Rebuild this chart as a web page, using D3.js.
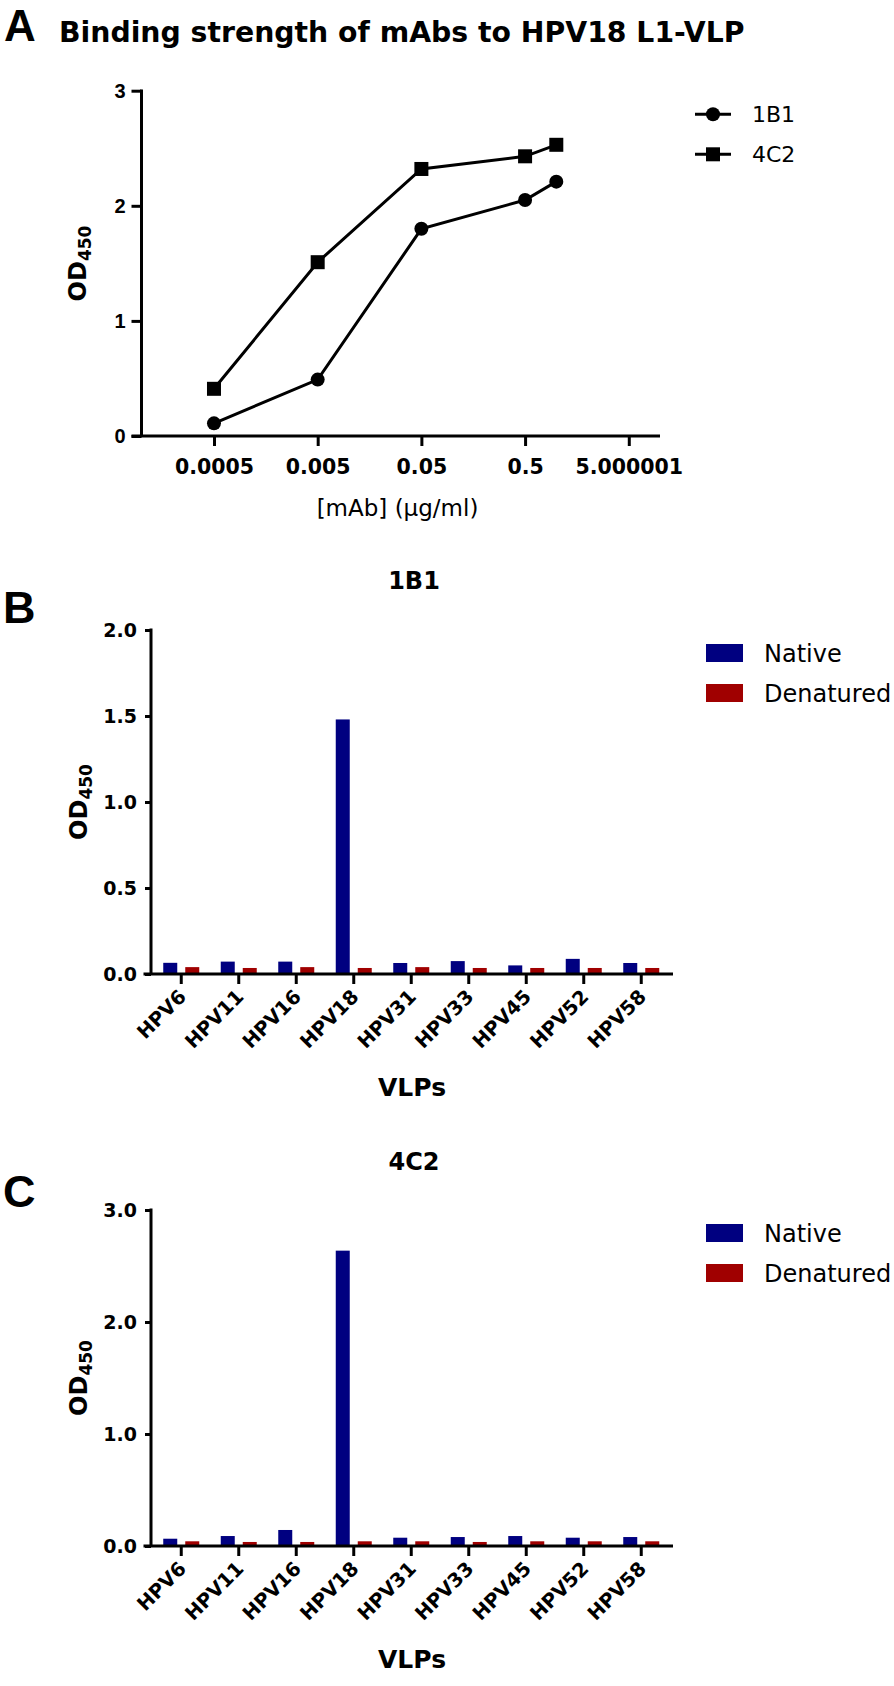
<!DOCTYPE html>
<html><head><meta charset="utf-8">
<script src="https://cdn.jsdelivr.net/npm/d3@7"></script>
<style>body{margin:0;background:#fff}svg{display:block}</style>
</head><body>
<script>
// ---------- DATA ----------
const concA = [0.0005, 0.005, 0.05, 0.5, 1];
const od1B1 = [0.11, 0.49, 1.80, 2.05, 2.21];
const od4C2 = [0.41, 1.51, 2.32, 2.43, 2.53];
const xTicksA = [0.0005, 0.005, 0.05, 0.5, 5.000001];
const xTickLabelsA = ["0.0005", "0.005", "0.05", "0.5", "5.000001"];
const yTicksA = [0, 1, 2, 3];

const vlps = ["HPV6", "HPV11", "HPV16", "HPV18", "HPV31", "HPV33", "HPV45", "HPV52", "HPV58"];
const groups = ["Native", "Denatured"];
const native1B1 = [0.065, 0.072, 0.072, 1.48, 0.064, 0.075, 0.050, 0.088, 0.064];
const denat1B1  = [0.040, 0.035, 0.040, 0.035, 0.040, 0.035, 0.035, 0.035, 0.035];
const native4C2 = [0.065, 0.089, 0.143, 2.637, 0.074, 0.080, 0.089, 0.074, 0.080];
const denat4C2  = [0.042, 0.036, 0.036, 0.042, 0.042, 0.036, 0.042, 0.042, 0.042];
const yTicksB = [0, 0.5, 1.0, 1.5, 2.0];
const yTicksC = [0, 1.0, 2.0, 3.0];

const colors = {Native: "#000080", Denatured: "#A00000"};
const BOLD = "'DejaVu Sans', Verdana, sans-serif";
const ARIAL = "'Liberation Sans', Arial, sans-serif";

const svg = d3.select("body").append("svg").attr("width", 894).attr("height", 1686);
svg.append("rect").attr("width", 894).attr("height", 1686).attr("fill", "#fff");

function txt(x, y, s, size, weight, anchor, family) {
  return svg.append("text").attr("x", x).attr("y", y).text(s)
    .attr("font-size", size).attr("font-weight", weight || "normal")
    .attr("text-anchor", anchor || "start").attr("font-family", family || BOLD).attr("fill", "#000");
}
function odLabel(x, yc) {
  const t = svg.append("text").attr("transform", `translate(${x},${yc}) rotate(-90)`)
    .attr("text-anchor", "middle").attr("font-family", BOLD).attr("font-weight", "bold").attr("fill", "#000");
  t.append("tspan").attr("font-size", 24).text("OD");
  t.append("tspan").attr("font-size", 17).attr("dy", 5).text("450");
}
function styleAxis(g) {
  g.select(".domain").remove();
  g.selectAll(".tick line").attr("stroke", "#000").attr("stroke-width", 3);
  g.selectAll(".tick text").attr("fill", "#000").attr("font-family", BOLD).attr("font-weight", "bold");
}

// ---------- PANEL A ----------
const xA = d3.scaleLog().domain([1e-4, 10]).range([141.5, 660]);
const yA = d3.scaleLinear().domain([0, 3]).range([436, 90.7]);

txt(4, 41, "A", 44, "bold", "start", ARIAL);
txt(59, 42, "Binding strength of mAbs to HPV18 L1-VLP", 28.3, "bold");

const gxA = svg.append("g").attr("transform", "translate(0,436)")
  .call(d3.axisBottom(xA).tickValues(xTicksA).tickSize(10).tickPadding(13)
    .tickFormat((d, i) => xTickLabelsA[i]));
styleAxis(gxA);
gxA.selectAll(".tick text").attr("font-size", 20.5);

const gyA = svg.append("g").attr("transform", "translate(141.5,0)")
  .call(d3.axisLeft(yA).tickValues(yTicksA).tickSize(10).tickPadding(6).tickFormat(d3.format("d")));
styleAxis(gyA);
gyA.selectAll(".tick text").attr("font-size", 20).attr("font-family", ARIAL);

svg.append("line").attr("x1", 131.5).attr("x2", 660).attr("y1", 436).attr("y2", 436).attr("stroke", "#000").attr("stroke-width", 3);
svg.append("line").attr("x1", 141.5).attr("x2", 141.5).attr("y1", 89.5).attr("y2", 436).attr("stroke", "#000").attr("stroke-width", 3);

txt(397.5, 516, "[mAb] (μg/ml)", 23, "normal", "middle");
odLabel(86, 263.5);

const lineA = d3.line().x(d => xA(d[0])).y(d => yA(d[1]));
const series = [
  {name: "1B1", vals: od1B1, shape: "circle"},
  {name: "4C2", vals: od4C2, shape: "square"}
];
series.forEach(s => {
  const pts = concA.map((c, i) => [c, s.vals[i]]);
  svg.append("path").attr("d", lineA(pts)).attr("fill", "none").attr("stroke", "#000").attr("stroke-width", 3);
  pts.forEach(p => {
    if (s.shape === "circle")
      svg.append("circle").attr("cx", xA(p[0])).attr("cy", yA(p[1])).attr("r", 7).attr("fill", "#000");
    else
      svg.append("rect").attr("x", xA(p[0]) - 7).attr("y", yA(p[1]) - 7).attr("width", 14).attr("height", 14).attr("fill", "#000");
  });
});
// legend A
series.forEach((s, i) => {
  const ly = 114.3 + i * 40;
  svg.append("line").attr("x1", 695).attr("x2", 731).attr("y1", ly).attr("y2", ly).attr("stroke", "#000").attr("stroke-width", 3);
  if (s.shape === "circle") svg.append("circle").attr("cx", 713).attr("cy", ly).attr("r", 7).attr("fill", "#000");
  else svg.append("rect").attr("x", 706).attr("y", ly - 7).attr("width", 14).attr("height", 14).attr("fill", "#000");
  txt(752, ly + 8, s.name, 22, "normal");
});

// ---------- PANELS B & C ----------
function barPanel(cfg) {
  const x = d3.scaleBand().domain(vlps).range([152.5, 670]).padding(0);
  const inner = d3.scaleBand().domain(groups).range([-18, 18]).paddingInner(8 / 22).paddingOuter(0);
  const y = d3.scaleLinear().domain([0, cfg.max]).range([cfg.y0, cfg.yTop]);

  txt(3, cfg.letterY, cfg.letter, 45, "bold", "start", ARIAL);
  txt(414, cfg.titleY, cfg.title, 24, "bold", "middle");

  const data = vlps.map((v, i) => ({v, Native: cfg.native[i], Denatured: cfg.denat[i]}));
  const g = svg.append("g");
  data.forEach(d => {
    groups.forEach(k => {
      g.append("rect")
        .attr("x", x(d.v) + x.bandwidth() / 2 + inner(k))
        .attr("width", inner.bandwidth())
        .attr("y", y(d[k]))
        .attr("height", y(0) - y(d[k]))
        .attr("fill", colors[k]);
    });
  });

  const gy = svg.append("g").attr("transform", `translate(151,0)`)
    .call(d3.axisLeft(y).tickValues(cfg.ticks).tickSize(6).tickPadding(8).tickFormat(d3.format(".1f")));
  styleAxis(gy);
  gy.selectAll(".tick text").attr("font-size", 19);

  const gx = svg.append("g").attr("transform", `translate(0,${cfg.y0})`)
    .call(d3.axisBottom(x).tickSize(10).tickFormat(""));
  styleAxis(gx);
  vlps.forEach(v => {
    const cx = x(v) + x.bandwidth() / 2;
    svg.append("text").attr("transform", `translate(${cx + 6},${cfg.y0 + 24}) rotate(-45)`)
      .attr("text-anchor", "end").attr("font-family", BOLD).attr("font-weight", "bold")
      .attr("font-size", 19.5).attr("fill", "#000").text(v);
  });

  svg.append("line").attr("x1", 143.5).attr("x2", 673).attr("y1", cfg.y0).attr("y2", cfg.y0).attr("stroke", "#000").attr("stroke-width", 3);
  svg.append("line").attr("x1", 151).attr("x2", 151).attr("y1", cfg.yTop - 1.5).attr("y2", cfg.y0).attr("stroke", "#000").attr("stroke-width", 3);

  odLabel(87, (cfg.y0 + cfg.yTop) / 2);
  txt(412, cfg.y0 + 122, "VLPs", 25, "bold", "middle");

  groups.forEach((k, i) => {
    const sy = cfg.legY + i * 40;
    svg.append("rect").attr("x", 706).attr("y", sy).attr("width", 37).attr("height", 18).attr("fill", colors[k]);
    txt(764, sy + 18, k, 24, "normal");
  });
}

barPanel({letter: "B", letterY: 623, title: "1B1", titleY: 589, max: 2, y0: 974, yTop: 630,
  ticks: yTicksB, native: native1B1, denat: denat1B1, legY: 644});
barPanel({letter: "C", letterY: 1207, title: "4C2", titleY: 1170, max: 3, y0: 1546, yTop: 1210,
  ticks: yTicksC, native: native4C2, denat: denat4C2, legY: 1224});
</script>
</body></html>
